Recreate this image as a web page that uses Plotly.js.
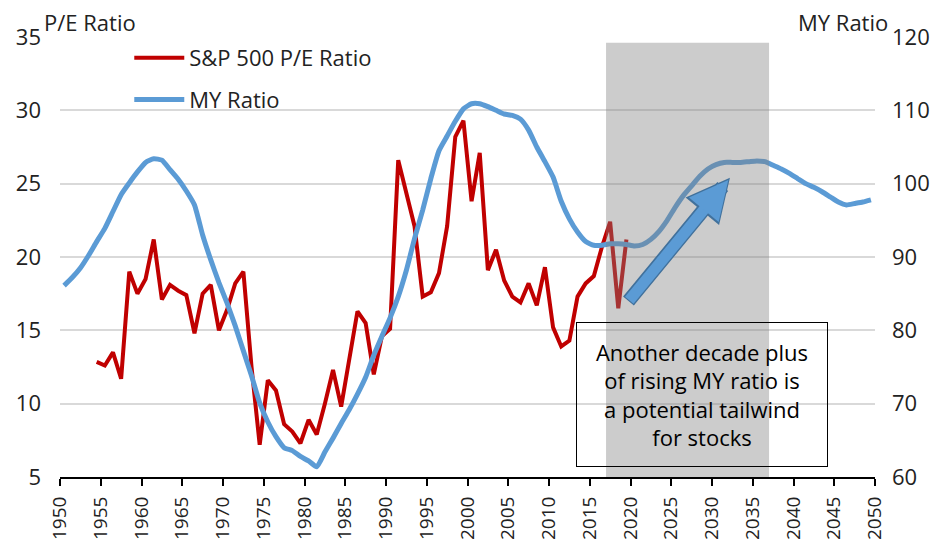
<!DOCTYPE html>
<html>
<head>
<meta charset="utf-8">
<script src="https://cdn.plot.ly/plotly-3.0.1.min.js"></script>
<style>html,body{margin:0;padding:0;background:#fff;}#chart{width:943px;height:543px;}</style>
</head>
<body>
<div id="chart"></div>
<script>
// S&P 500 P/E ratio, annual 1954-2019
const peYears = [];
for (let y = 1954; y <= 2019; y++) peYears.push(y);
const peValues = [
  12.85, 12.6, 13.5, 11.7, 19.0, 17.5, 18.5, 21.2, 17.1, 18.1,
  17.7, 17.4, 14.8, 17.5, 18.1, 15.0, 16.4, 18.2, 19.0, 12.5,
  7.2, 11.6, 10.9, 8.6, 8.1, 7.3, 8.9, 7.9, 10.0, 12.3,
  9.8, 13.2, 16.3, 15.5, 12.0, 14.6, 15.1, 26.6, 24.3, 22.1,
  17.3, 17.6, 18.9, 22.1, 28.2, 29.3, 23.8, 27.1, 19.1, 20.5,
  18.4, 17.3, 16.9, 18.2, 16.7, 19.3, 15.2, 13.9, 14.3, 17.3,
  18.2, 18.7, 20.7, 22.4, 16.5, 21.2
];

// MY (middle-aged to young) ratio, annual 1950-2049
const myYears = [];
for (let y = 1950; y <= 2049; y++) myYears.push(y);
const myValues = [
  86.1, 87.2, 88.5, 90.2, 92.1, 93.9, 96.2, 98.5, 100.1, 101.6,
  102.9, 103.4, 103.2, 101.9, 100.6, 99.0, 97.1, 93.0, 89.6, 86.5,
  83.7, 80.6, 77.2, 73.8, 70.1, 67.5, 65.5, 64.0, 63.6, 62.8,
  62.2, 61.4, 63.4, 65.3, 67.3, 69.2, 71.3, 73.6, 76.6, 79.2,
  81.7, 84.6, 88.2, 92.5, 96.4, 100.7, 104.5, 106.5, 108.5, 110.2,
  110.9, 110.9, 110.5, 110.0, 109.5, 109.3, 108.8, 107.3, 105.0, 103.0,
  100.9, 97.6, 95.2, 93.4, 92.1, 91.6, 91.6, 91.8, 91.8, 91.7,
  91.5, 91.7, 92.4, 93.5, 95.0, 96.8, 98.4, 99.7, 101.0, 102.0,
  102.6, 102.9, 102.9, 102.9, 103.0, 103.1, 103.0, 102.5, 102.0, 101.4,
  100.7, 100.0, 99.5, 98.9, 98.2, 97.5, 97.1, 97.3, 97.5, 97.8
];

const xTicks = [];
for (let y = 1950; y <= 2050; y += 5) xTicks.push(y);

const shadeStart = 2017, shadeEnd = 2037;
const noteText = "Another decade plus<br>of rising MY ratio is<br>a potential tailwind<br>for stocks";

// annual values plotted at mid-year
const mid = v => v + 0.5;

const FONT = '"Open Sans", "Noto Sans", sans-serif';

const traces = [
  {
    name: 'S&P 500 P/E Ratio',
    x: peYears.map(mid), y: peValues,
    type: 'scatter', mode: 'lines',
    line: {color: '#c00000', width: 4},
    yaxis: 'y', legendgroup: 'a'
  },
  {
    name: 'MY Ratio',
    x: myYears.map(mid), y: myValues,
    type: 'scatter', mode: 'lines',
    line: {color: '#5b9bd5', width: 5, shape: 'spline', smoothing: 0.5},
    yaxis: 'y2', legendgroup: 'b'
  }
];

const layout = {
  width: 943, height: 543,
  margin: {l: 60, r: 68, t: 37, b: 66},
  paper_bgcolor: '#fff', plot_bgcolor: '#fff',
  font: {family: FONT, size: 22, color: '#222'},
  showlegend: true,
  legend: {
    x: 0.085, y: 1.0, xanchor: 'left', yanchor: 'top',
    bgcolor: 'rgba(0,0,0,0)', font: {size: 22, family: FONT, color: '#222'},
    traceorder: 'grouped', tracegroupgap: 10, itemwidth: 50
  },
  xaxis: {
    range: [1950, 2050], tickmode: 'array', tickvals: xTicks,
    ticktext: xTicks.map(String), tickangle: -90,
    showgrid: false, zeroline: false,
    showline: true, linecolor: '#000', linewidth: 2,
    ticks: 'outside', ticklen: 7, tickwidth: 2, tickcolor: '#000',
    ticklabelstandoff: 3,
    tickfont: {size: 19, family: FONT, color: '#222'}
  },
  yaxis: {
    range: [5, 35], dtick: 5, tick0: 5,
    showgrid: true, gridcolor: '#d9d9d9', gridwidth: 2,
    zeroline: false, showline: false, ticks: '',
    ticklabelstandoff: 18,
    tickfont: {size: 22, family: FONT, color: '#222'}
  },
  yaxis2: {
    range: [60, 120], dtick: 10, tick0: 60,
    overlaying: 'y', side: 'right',
    showgrid: false, zeroline: false, showline: false, ticks: '',
    ticklabelstandoff: 16,
    tickfont: {size: 22, family: FONT, color: '#222'}
  },
  shapes: [
    {
      type: 'rect', xref: 'x', yref: 'y',
      x0: shadeStart, x1: shadeEnd, y0: 5, y1: 34.6,
      fillcolor: 'rgba(128,128,128,0.4)', line: {width: 0},
      layer: 'above'
    }
  ],
  annotations: [
    {
      text: 'P/E Ratio', xref: 'paper', yref: 'paper',
      x: -0.022, y: 0.995, xanchor: 'left', yanchor: 'bottom',
      showarrow: false, font: {size: 22, family: FONT, color: '#222'}
    },
    {
      text: 'MY Ratio', xref: 'paper', yref: 'paper',
      x: 1.018, y: 0.995, xanchor: 'right', yanchor: 'bottom',
      showarrow: false, font: {size: 22, family: FONT, color: '#222'}
    },
    {
      text: '', xref: 'x', yref: 'y', axref: 'x', ayref: 'y',
      x: 2032.2, y: 25.4, ax: 2019.6, ay: 16.9,
      showarrow: true, arrowhead: 2, arrowsize: 0.62, arrowwidth: 14,
      arrowcolor: '#41719c', standoff: 0
    },
    {
      text: '', xref: 'x', yref: 'y', axref: 'x', ayref: 'y',
      x: 2032.0, y: 25.25, ax: 2019.7, ay: 16.95,
      showarrow: true, arrowhead: 2, arrowsize: 0.7, arrowwidth: 11,
      arrowcolor: '#5b9bd5', standoff: 0
    },
    {
      text: noteText, xref: 'x', yref: 'y',
      x: 2028.8, y: 10.6, xanchor: 'center', yanchor: 'middle',
      showarrow: false, align: 'center',
      width: 248, height: 141,
      bordercolor: '#000', borderwidth: 1, borderpad: 1,
      font: {size: 22, family: FONT, color: '#000'}
    }
  ]
};

Plotly.newPlot('chart', traces, layout, {displayModeBar: false, staticPlot: true});
</script>
</body>
</html>
